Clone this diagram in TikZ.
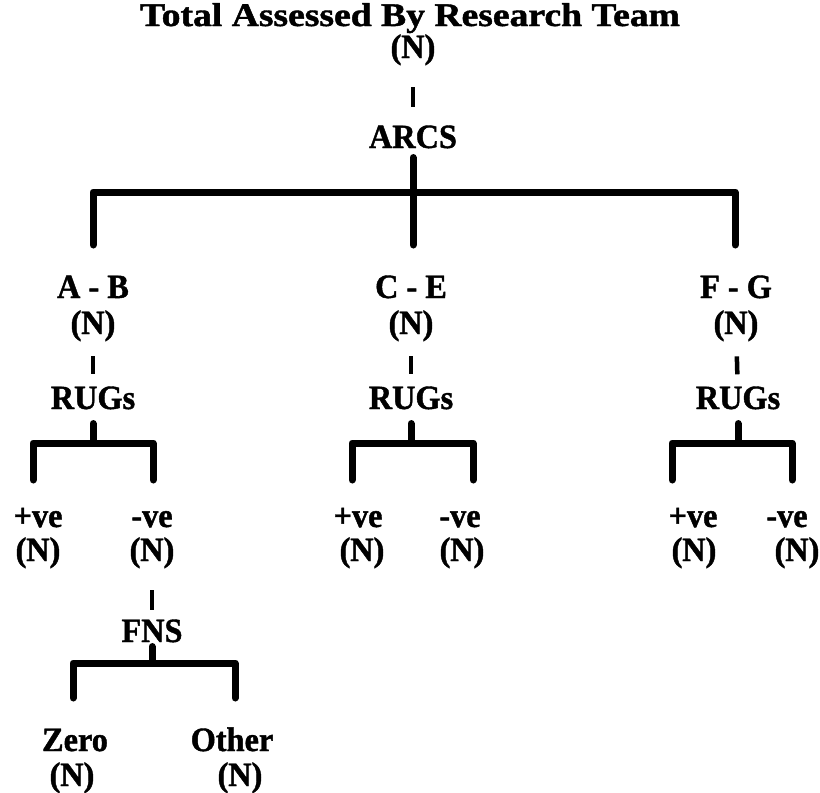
\documentclass[tikz,border=0pt]{standalone}
\usepackage{graphicx}
\usepackage{fontspec}
\setmainfont{Liberation Serif}[BoldFeatures={FakeBold=1.2,FakeStretch=0.95}]

\begin{document}
\begin{tikzpicture}[x=1pt,y=-1pt,
  lbl/.style={font=\bfseries\fontsize{34}{37}\selectfont, inner sep=0pt, anchor=base},
  ttl/.style={font=\bfseries\fontsize{33}{36}\selectfont, inner sep=0pt, anchor=base},
  tick/.style={line width=4.5pt},
  bar/.style={line width=7pt, line join=round, line cap=round}]
\useasboundingbox (0,0) rectangle (820,793);

% root
\node [ttl] (title) at (410,26) {\scalebox{1.2}[1]{Total Assessed By Research Team}};
\node [lbl] (rootn) at (413,58) {(N)};
\node [lbl] (arcs) at (413,148) {ARCS};
\draw [tick, shorten <=22pt, shorten >=18pt] (rootn) -- (arcs);

\coordinate (topj) at (413,192);
\coordinate (abtop) at (93,245);
\coordinate (cetop) at (413,245);
\coordinate (fgtop) at (735,245);
\draw [bar, shorten <=9pt] (arcs) -- (cetop);
\draw [bar] (abtop) |- (topj) -| (fgtop);

% three groups
\node [lbl] (ab) at (93,298) {A - B};
\node [lbl] (ce) at (411,298) {C - E};
\node [lbl] (fg) at (736,298) {F - G};
\node [lbl] (abn) at (93,334) {(N)};
\node [lbl] (cen) at (411,334) {(N)};
\node [lbl] (fgn) at (736,334) {(N)};
\node [lbl] (abrugs) at (93,409) {RUGs};
\node [lbl] (cerugs) at (411,409) {RUGs};
\node [lbl] (fgrugs) at (738,409) {RUGs};
\draw [tick, shorten <=15pt, shorten >=12pt] (abn) -- (abrugs);
\draw [tick, shorten <=15pt, shorten >=12pt] (cen) -- (cerugs);
\draw [tick, shorten <=15pt, shorten >=12pt] (fgn) -- (fgrugs);

% RUGs brackets
\coordinate (abj) at (93,443);
\coordinate (abl) at (33,480);
\coordinate (abr) at (153,480);
\draw [bar, shorten <=14pt] (abrugs) -- (abj);
\draw [bar] (abl) |- (abj) -| (abr);
\coordinate (cej) at (411,443);
\coordinate (cel) at (352,480);
\coordinate (cer) at (473,480);
\draw [bar, shorten <=14pt] (cerugs) -- (cej);
\draw [bar] (cel) |- (cej) -| (cer);
\coordinate (fgj) at (738,443);
\coordinate (fgl) at (672,480);
\coordinate (fgr) at (792,480);
\draw [bar, shorten <=14pt] (fgrugs) -- (fgj);
\draw [bar] (fgl) |- (fgj) -| (fgr);

% +ve / -ve
\node [lbl] (abpos) at (38,527) {+ve};
\node [lbl] (abneg) at (152,527) {-ve};
\node [lbl] (abposn) at (38,561) {(N)};
\node [lbl] (abnegn) at (152,561) {(N)};
\node [lbl] (cepos) at (358,527) {+ve};
\node [lbl] (ceneg) at (460,527) {-ve};
\node [lbl] (ceposn) at (362,561) {(N)};
\node [lbl] (cenegn) at (462,561) {(N)};
\node [lbl] (fgpos) at (693,527) {+ve};
\node [lbl] (fgneg) at (787,527) {-ve};
\node [lbl] (fgposn) at (694,561) {(N)};
\node [lbl] (fgnegn) at (797,561) {(N)};

% FNS
\node [lbl] (fns) at (152,642) {FNS};
\draw [tick, shorten <=22pt, shorten >=9pt] (abnegn) -- (fns);
\coordinate (fnsj) at (152,663);
\coordinate (fnsl) at (73,698);
\coordinate (fnsr) at (235,698);
\draw [bar, shorten <=4pt] (fns) -- (fnsj);
\draw [bar] (fnsl) |- (fnsj) -| (fnsr);
\node [lbl] (zero) at (75,751) {Zero};
\node [lbl] (other) at (232,751) {Other};
\node [lbl] (zeron) at (72,786) {(N)};
\node [lbl] (othern) at (240,786) {(N)};
\end{tikzpicture}
\end{document}
